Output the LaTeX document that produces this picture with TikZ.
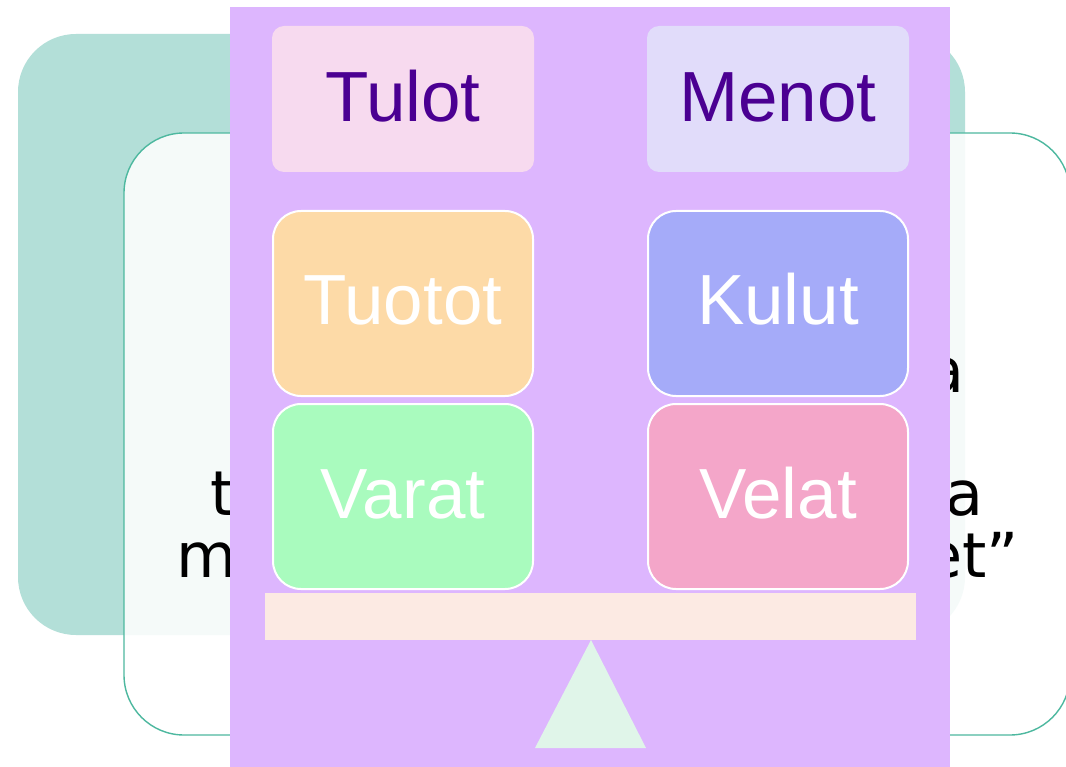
\documentclass[tikz,border=0pt]{standalone}
\usepackage{fontspec}
\setmainfont{Liberation Sans}
\newfontfamily\dejavu{DejaVu Sans}
\definecolor{tealbg}{HTML}{B3DFD8}
\definecolor{tealline}{HTML}{4DB89F}
\definecolor{purplebg}{HTML}{DDB6FE}
\definecolor{darkpurple}{HTML}{4B0092}
\definecolor{tulotc}{HTML}{F7DAEF}
\definecolor{menotc}{HTML}{E1DCFA}
\definecolor{tuototc}{HTML}{FDDAA7}
\definecolor{kulutc}{HTML}{A5ABF9}
\definecolor{varatc}{HTML}{A9FBBE}
\definecolor{velatc}{HTML}{F4A6C9}
\definecolor{beamc}{HTML}{FCEAE3}
\definecolor{pivotc}{HTML}{E0F5E9}
\tikzset{
  headbox/.style={rectangle, rounded corners=12pt, inner sep=0pt, minimum width=262pt, minimum height=146pt},
  itembox/.style={rectangle, rounded corners=28pt, draw=white, line width=2pt, inner sep=0pt, minimum width=260pt, minimum height=185pt},
  headlbl/.style={anchor=base, inner sep=0pt, text=darkpurple, font=\fontsize{71}{71}\selectfont},
  itemlbl/.style={anchor=base, inner sep=0pt, text=white, font=\fontsize{71}{71}\selectfont},
  frag/.style={inner sep=0pt, text=black, font=\dejavu\fontsize{62}{62}\selectfont},
}
\begin{document}
\begin{tikzpicture}[x=1pt,y=-1pt]
\useasboundingbox (0,0) rectangle (1066,767);
\fill[white] (0,0) rectangle (1066,767);
% background teal panel
\fill[tealbg, rounded corners=58pt] (18,34) rectangle (965,635);
% inner white panel
\draw[tealline, line width=1.4pt, fill=white, fill opacity=0.87, rounded corners=60pt] (124,133) rectangle (1070,735);
% text fragments
\node[frag, anchor=base east] (fa1) at (965,392) {a};
\node[frag, anchor=base west] (ft3) at (210,515) {t};
\node[frag, anchor=base east] (fa3) at (984,515) {a};
\node[frag, anchor=base west] (fm4) at (176,577) {m};
\node[frag, anchor=base east] (fe4) at (1019,577) {et”};
% purple panel
\fill[purplebg] (230,7) rectangle (950,770);
% header boxes
\node[headbox, fill=tulotc] (tulot) at (403,99) {};
\node[headbox, fill=menotc] (menot) at (778,99) {};
\node[headlbl] (tulotT) at (403,122) {Tulot};
\node[headlbl] (menotT) at (778,122) {Menot};
% item boxes
\node[itembox, fill=tuototc] (tuotot) at (403,303.5) {};
\node[itembox, fill=kulutc] (kulut) at (778,303.5) {};
\node[itembox, fill=varatc] (varat) at (403,496.5) {};
\node[itembox, fill=velatc] (velat) at (778,496.5) {};
\node[itemlbl] (tuototT) at (403,325) {Tuotot};
\node[itemlbl] (kulutT) at (778,325) {Kulut};
\node[itemlbl] (varatT) at (403,518) {Varat};
\node[itemlbl] (velatT) at (778,518) {Velat};
% balance beam and pivot
\node[rectangle, fill=beamc, inner sep=0pt, minimum width=651pt, minimum height=47pt] (beam) at (590.5,616.5) {};
\fill[pivotc] (591,640) -- (646,748) -- (535,748) -- cycle;
\coordinate (pivot) at (591,640);
\end{tikzpicture}
\end{document}
